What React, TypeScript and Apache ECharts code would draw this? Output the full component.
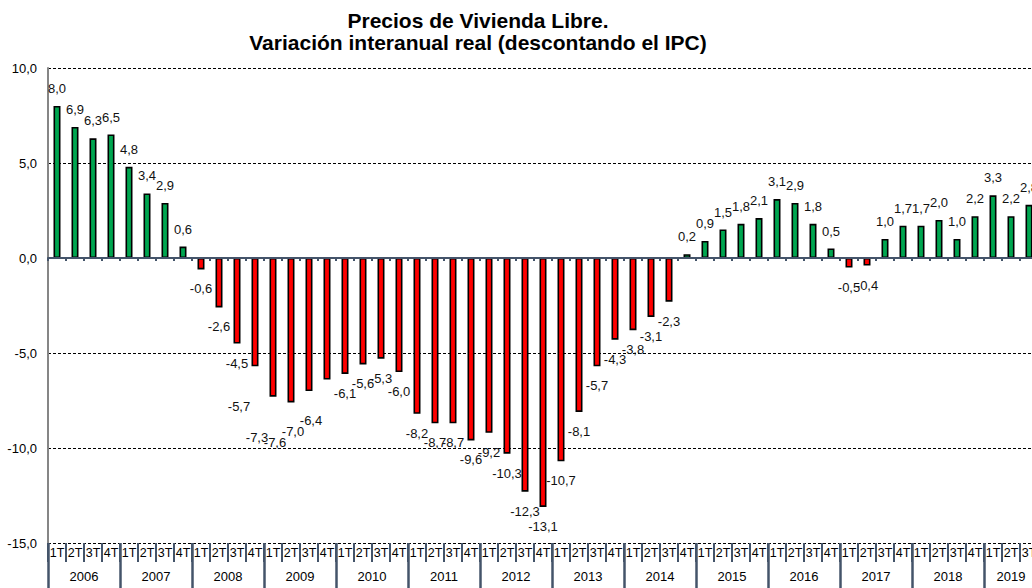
import React, { useEffect, useRef } from "react";
import * as echarts from "echarts";

const titleLines = [
  "Precios de Vivienda Libre.",
  "Variación interanual real (descontando el IPC)",
];
const years = [
  "2006", "2007", "2008", "2009", "2010", "2011", "2012",
  "2013", "2014", "2015", "2016", "2017", "2018", "2019",
];
const quarterNames = ["1T", "2T", "3T", "4T"];
// quarterly values 2006 1T ... 2019 3T
const values: number[] = [
  8.0, 6.9, 6.3, 6.5,
  4.8, 3.4, 2.9, 0.6,
  -0.6, -2.6, -4.5, -5.7,
  -7.3, -7.6, -7.0, -6.4,
  -6.1, -5.6, -5.3, -6.0,
  -8.2, -8.7, -8.7, -9.6,
  -9.2, -10.3, -12.3, -13.1,
  -10.7, -8.1, -5.7, -4.3,
  -3.8, -3.1, -2.3, 0.2,
  0.9, 1.5, 1.8, 2.1,
  3.1, 2.9, 1.8, 0.5,
  -0.5, -0.4, 1.0, 1.7,
  1.7, 2.0, 1.0, 2.2,
  3.3, 2.2, 2.8,
];
const yTicks = { min: -15, max: 10, interval: 5 };
// labels that were moved by hand in the original
const movedLabels = [11, 12, 13, 14, 15];

const quarters: string[] = values.map((_, i) => quarterNames[i % 4]);
// year spans (in quarters) derived from the data length
const yearStarts: number[] = [];
const yearMids: number[] = [];
years.forEach((_, k) => {
  const s = k * 4;
  const e = Math.min(s + 4, values.length);
  yearStarts.push(s);
  yearMids.push((s + e) / 2);
});
const yearBounds = [...yearStarts, values.length];

const FONT = '"Liberation Sans", Arial, Helvetica, sans-serif';
const GREEN = "#00a650";
const RED = "#ff0000";
const DARK = "#44546a";

const fmt = (v: number) => v.toFixed(1).replace(".", ",");

export default function App() {
  const ref = useRef<HTMLDivElement>(null);
  useEffect(() => {
    const chart = echarts.init(ref.current!, null, { renderer: "svg" });
    const moved = new Set(movedLabels);
    const data = values.map((v, i) => {
      const pos = v >= 0;
      return {
        value: v,
        itemStyle: { color: pos ? GREEN : RED },
        label: {
          position: pos ? "top" : "bottom",
          distance: pos ? 11 : 13,
          offset: moved.has(i) ? [-16, 21] : [0, 0],
        },
      };
    });
    chart.setOption({
      animation: false,
      backgroundColor: "#ffffff",
      textStyle: { fontFamily: FONT },
      grid: { left: 48, right: 62, top: 68, bottom: 45, containLabel: false },
      graphic: titleLines.map((t, i) => ({
        type: "text",
        x: 478,
        y: 20 + i * 22,
        style: {
          text: t,
          font: `bold 21px ${FONT}`,
          fill: "#000",
          textAlign: "center",
          align: "center",
          textVerticalAlign: "middle",
          verticalAlign: "middle",
        },
      })),
      xAxis: [
        {
          type: "category",
          data: quarters,
          boundaryGap: true,
          axisLine: { show: true, onZero: true, lineStyle: { color: DARK, width: 2 } },
          axisTick: { show: true, interval: 0, length: 3, lineStyle: { color: DARK, width: 2 } },
          axisLabel: { show: false },
          splitLine: { show: false },
          z: 5,
        },
        {
          type: "category",
          data: quarters,
          position: "bottom",
          boundaryGap: true,
          axisLine: { show: false, onZero: false },
          axisTick: { show: true, interval: 0, length: 19, lineStyle: { color: DARK, width: 2 } },
          axisLabel: { show: true, interval: 0, margin: 3, fontSize: 12.5, color: "#000", fontFamily: FONT },
          splitLine: { show: false },
        },
        {
          type: "value",
          min: 0,
          max: values.length,
          position: "bottom",
          axisLine: { show: false, onZero: false },
          axisTick: {
            show: true,
            customValues: yearBounds,
            length: 45,
            lineStyle: { color: DARK, width: 2.5 },
          },
          axisLabel: {
            show: true,
            customValues: yearMids,
            formatter: (v: number) => {
              const k = yearMids.findIndex((m) => Math.abs(m - v) < 1e-6);
              return k >= 0 ? years[k] : "";
            },
            margin: 27,
            fontSize: 13,
            color: "#000",
            fontFamily: FONT,
          },
          splitLine: { show: false },
        },
      ],
      yAxis: {
        type: "value",
        min: yTicks.min,
        max: yTicks.max,
        interval: yTicks.interval,
        axisLine: { show: true, lineStyle: { color: "#868686", width: 2 } },
        axisTick: { show: false },
        axisLabel: { formatter: (v: number) => fmt(v), fontSize: 13, color: "#000", margin: 11, fontFamily: FONT },
        splitLine: { show: true, lineStyle: { color: "#000", type: [3, 2], width: 1 } },
      },
      series: [
        {
          type: "bar",
          xAxisIndex: 0,
          yAxisIndex: 0,
          data,
          barWidth: 7,
          itemStyle: { borderColor: "#000", borderWidth: 1.6 },
          label: {
            show: true,
            formatter: (p: any) => fmt(p.value),
            fontSize: 13,
            color: "#111",
            fontFamily: FONT,
          },
          z: 3,
        },
      ],
    });
    return () => chart.dispose();
  }, []);
  return (
    <div
      style={{
        position: "fixed",
        left: 0,
        top: 0,
        width: 1032,
        height: 588,
        overflow: "hidden",
        background: "#fff",
      }}
    >
      <div ref={ref} style={{ width: 1100, height: 588 }} />
    </div>
  );
}
